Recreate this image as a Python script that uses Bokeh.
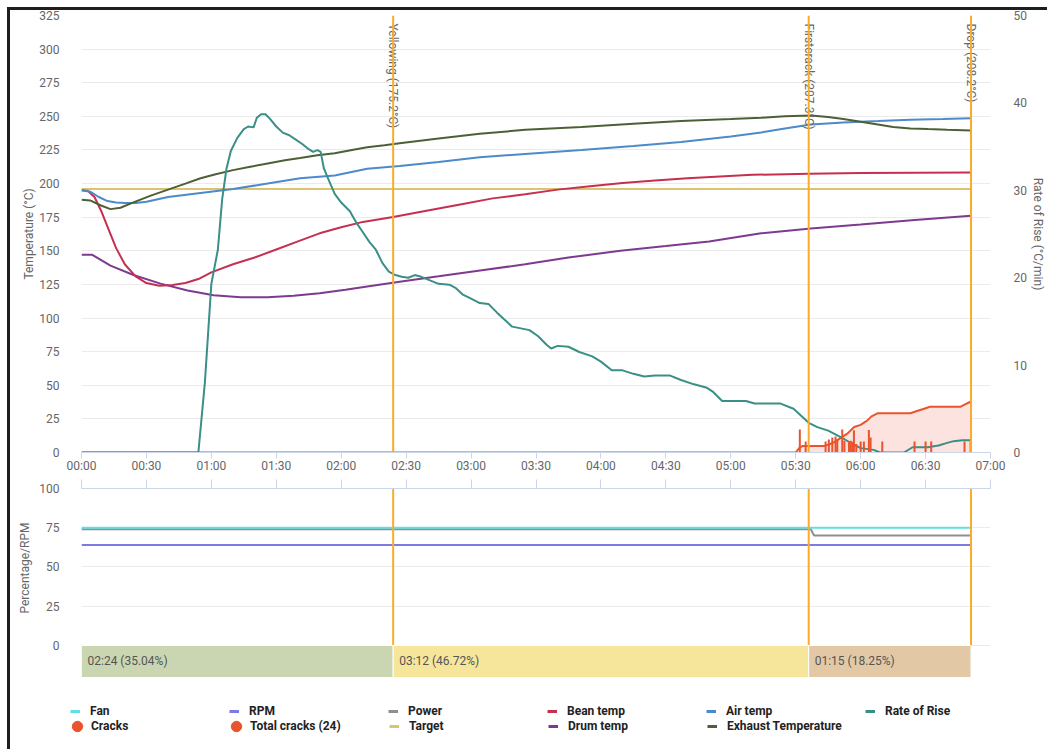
import math
from bokeh.plotting import figure
from bokeh.models import Range1d, LinearAxis, FixedTicker, Span, Legend, LegendItem, Title
from bokeh.layouts import column
from bokeh.embed import file_html
from bokeh.resources import INLINE
from bokeh.core.properties import value

# ---------------- data ----------------
x_ticks = [0, 30, 60, 90, 120, 150, 180, 210, 240, 270, 300, 330, 360, 390, 420]
x_tick_labels = ["00:00", "00:30", "01:00", "01:30", "02:00", "02:30", "03:00", "03:30",
                 "04:00", "04:30", "05:00", "05:30", "06:00", "06:30", "07:00"]
temp_ticks = [0, 25, 50, 75, 100, 125, 150, 175, 200, 225, 250, 275, 300, 325]
ror_ticks = [0, 10, 20, 30, 40, 50]
pct_ticks = [0, 25, 50, 75, 100]

bean_t = [0, 3, 6, 9, 12, 16, 20, 25, 30, 36, 42, 48, 54, 60, 70, 80, 90, 100, 110, 120,
          130, 144, 160, 175, 190, 205, 220, 235, 250, 265, 280, 295, 310, 336, 360, 385, 411]
bean_v = [195, 194.5, 190, 180, 168, 152, 140, 131, 126, 124, 124.5, 126, 129, 134, 140, 145, 151, 157, 163, 167.5,
          171.5, 175.2, 180, 184.5, 189, 192, 195.5, 198, 200.5, 202.3, 204, 205.3, 206.5, 207.3, 207.8, 208, 208.2]

air_t = [0, 4, 8, 12, 16, 20, 25, 30, 40, 55, 70, 86, 101, 117, 132, 147, 165, 184, 205, 231,
         255, 277, 300, 314, 325, 337, 352, 368, 383, 398, 411]
air_v = [195, 194, 190, 187, 186, 185.5, 185.5, 186.5, 190, 193, 196, 200, 204, 206, 211, 213, 216, 219.5, 222, 225,
         228, 231, 235, 238, 241, 244, 245.5, 246.5, 247.5, 248, 248.5]

exh_t = [0, 4, 9, 13.4, 18, 24, 32, 40, 48, 55, 62, 70, 78, 86, 94, 101, 109, 117, 125, 132,
         140, 147, 165, 184, 205, 231, 255, 277, 300, 314, 325, 337, 345, 352, 360, 368, 375, 383, 391, 400, 411]
exh_v = [188, 187.5, 183.7, 181, 182, 186, 191, 195.5, 200, 204, 207, 210, 212.5, 215, 217.3, 219, 221, 222.6, 225, 227,
         228.5, 230, 233.5, 237, 240, 242, 244.5, 246.5, 248, 249, 250, 250.6, 249.5, 248, 246, 244, 242, 241, 240.5, 240, 239.5]

drum_t = [0, 5, 13.4, 24, 36.5, 49, 61, 73.5, 86, 98, 110, 122, 132, 147, 165, 185, 205, 225, 249, 270,
          290, 314, 337, 360, 385, 411]
drum_v = [147, 147, 139, 132, 125.6, 120.5, 117, 115.5, 115.5, 116.5, 118.5, 121, 123.5, 127, 131, 135.5, 140, 145, 150, 153.5,
          157, 163, 166.6, 169.5, 173, 176]

target_t = [0, 411]
target_v = [196, 196]

ror_t = [0, 54, 57, 60, 63, 65, 67, 69, 72, 75, 77, 79.5, 81, 83, 85, 87, 90, 93, 96, 99,
         102, 105, 107, 109, 110.5, 112, 114, 117, 120, 124, 127, 130, 133, 136, 139, 142, 145, 148, 151, 154,
         157, 161, 165, 170, 173, 176, 180, 184, 188, 192, 195, 199, 203, 207, 211, 215, 217, 220, 225, 230,
         236, 240, 245, 250, 255, 260, 265, 272, 277, 283, 289, 292, 296, 303, 307, 311, 315, 323, 329, 333,
         336, 340, 345, 349, 352, 356, 360, 366, 369, 380, 384, 391, 396, 400, 403, 407, 411]
ror_v = [0, 0, 8, 19.3, 23.2, 29, 32.5, 34.5, 36, 37, 37.3, 37.2, 38.3, 38.7, 38.7, 38.2, 37.3, 36.6, 36.3, 35.8,
         35.3, 34.7, 34.4, 34.6, 34.4, 32.5, 31.3, 29.6, 28.6, 27.6, 26.3, 25.2, 24.1, 23.2, 21.7, 20.7, 20.3, 20.1, 20.0, 20.3,
         20.1, 19.7, 19.3, 19.2, 18.8, 18.1, 17.6, 17.1, 17.0, 16.0, 15.3, 14.4, 14.2, 14.0, 13.3, 12.3, 11.9, 12.2, 12.1, 11.5,
         11.0, 10.4, 9.4, 9.4, 9.0, 8.7, 8.8, 8.8, 8.3, 7.8, 7.4, 6.9, 5.9, 5.9, 5.9, 5.6, 5.6, 5.6, 5.0, 4.1,
         3.4, 2.9, 2.5, 2.0, 1.6, 1.0, 0.5, 0.3, 0.0, 0.0, 0.6, 0.6, 0.8, 1.1, 1.3, 1.4, 1.4]

total_cracks_t = [0, 330, 331.5, 333, 343, 346, 348, 351, 354, 357, 360, 363, 365, 368, 383, 386, 389, 392, 406, 408, 411]
total_cracks_v = [0, 0, 2, 3, 3, 4, 5, 7, 9, 12, 13, 15, 17, 18.5, 18.5, 19.5, 20.5, 21.5, 21.5, 22.5, 24]

crack_t = [331.9, 334.6, 343.8, 345.3, 346.9, 348.4, 349.2, 351.5, 352.5, 354.6,
           355.4, 356.1, 356.9, 358, 360, 361.5, 363.8, 364.6, 370, 384.9,
           390, 392.6, 408, 410.8]
crack_h = [10.8, 5.2, 5.2, 6.1, 7, 7.5, 6.1, 10.8, 5.5, 5,
           5.5, 5, 10.5, 4, 5.2, 5.2, 10.6, 7, 5.2, 5.2,
           5.2, 5.2, 5.2, 5.2]

fan_t = [0, 411]
fan_v = [75, 75]
rpm_t = [0, 411]
rpm_v = [64, 64]
power_t = [0, 337, 338.5, 411]
power_v = [74, 74, 70, 70]

event_names = ["Yellowing", "Firstcrack", "Drop"]
event_times = [144, 336, 411]
event_temps = [175.2, 207.3, 208.2]

phase_starts = [0, 144, 336]
phase_ends = [144, 336, 411]

# ---------------- styles ----------------
FONT = "Roboto"
AXC = "#666666"
FAN = "#62dfe6"
RPM = "#7b7be4"
POWER = "#8e8e8e"
BEAN = "#c6304f"
AIR = "#4d8acb"
ROR = "#3a8f86"
CRACK = "#e9542c"
CRACK_FILL = "#fde3df"
TARGET = "#dcc36e"
DRUM = "#7e3a8e"
EXH = "#4d6035"
EVENT = "#fbab2c"
PHASE_COLORS = ["#c9d6b1", "#f6e69b", "#e3c8a6"]
GRID = "#ebebeb"
TICKC = "#ccd6eb"

TEMP_MAX = temp_ticks[-1]
PCT_BOTTOM = -20.4   # room below 0 for the phase band
LEFT = 71
RIGHT = 52
FW = 909


def style_axis(ax):
    ax.major_label_text_font = FONT
    ax.major_label_text_font_size = "12px"
    ax.major_label_text_color = AXC
    ax.axis_label_text_font = FONT
    ax.axis_label_text_font_size = "12px"
    ax.axis_label_text_font_style = "normal"
    ax.axis_label_text_color = AXC
    ax.minor_tick_line_color = None


# ---------------- top chart ----------------
p1 = figure(title=None, frame_width=FW, frame_height=437, align="start",
            x_range=Range1d(x_ticks[0], x_ticks[-1]), y_range=Range1d(0, TEMP_MAX),
            output_backend="svg", toolbar_location=None,
            min_border_left=LEFT, min_border_right=RIGHT, min_border_top=5, min_border_bottom=24)
p1.extra_y_ranges = {"ror": Range1d(0, ror_ticks[-1]), "cracks": Range1d(0, 205.6)}
p1.outline_line_color = None
p1.xgrid.grid_line_color = None
p1.ygrid.ticker = FixedTicker(ticks=temp_ticks)
p1.ygrid.grid_line_color = GRID

lax = p1.left[0]
style_axis(lax)
lax.ticker = FixedTicker(ticks=temp_ticks)
lax.axis_line_color = None
lax.major_tick_line_color = None
lax.major_label_standoff = 16
lax.axis_label = "Temperature (°C)"
lax.axis_label_standoff = 0

bax = p1.below[0]
style_axis(bax)
bax.ticker = FixedTicker(ticks=x_ticks)
bax.major_label_overrides = {t: lab for t, lab in zip(x_ticks, x_tick_labels)}
bax.axis_line_color = TICKC
bax.major_tick_line_color = TICKC
bax.major_tick_out = 6
bax.major_tick_in = 0
bax.major_label_standoff = 0

rax = LinearAxis(y_range_name="ror", ticker=FixedTicker(ticks=ror_ticks), axis_label="Rate of Rise (°C/min)")
style_axis(rax)
rax.axis_line_color = None
rax.major_tick_line_color = None
rax.major_label_standoff = 17
rax.axis_label_standoff = 1
p1.add_layout(rax, "right")

p1.varea(x=total_cracks_t, y1=0, y2=total_cracks_v, y_range_name="cracks", fill_color=CRACK_FILL, fill_alpha=1)
p1.line(target_t, target_v, line_color=TARGET, line_width=2)
p1.line(drum_t, drum_v, line_color=DRUM, line_width=2)
p1.line(bean_t, bean_v, line_color=BEAN, line_width=2)
p1.line(air_t, air_v, line_color=AIR, line_width=2)
p1.line(exh_t, exh_v, line_color=EXH, line_width=2)
p1.line(total_cracks_t, total_cracks_v, y_range_name="cracks", line_color=CRACK, line_width=2)
p1.line(ror_t, ror_v, y_range_name="ror", line_color=ROR, line_width=2)
p1.segment(x0=crack_t, y0=[0] * len(crack_t), x1=crack_t, y1=crack_h, y_range_name="cracks",
           line_color=CRACK, line_width=2)

event_labels = [f"{n} ({v:.1f}°C)" for n, v in zip(event_names, event_temps)]
for t in event_times:
    p1.add_layout(Span(location=t, dimension="height", line_color=EVENT, line_width=2))
p1.text(x=event_times, y=[TEMP_MAX] * len(event_times), text=event_labels, angle=-math.pi / 2,
        text_align="left", text_baseline="middle", y_offset=8,
        text_font=value(FONT), text_font_size="12px", text_color=AXC)

# ---------------- bottom chart (with phase band) ----------------
p2 = figure(title=None, frame_width=FW, frame_height=189, align="start",
            x_range=p1.x_range, y_range=Range1d(PCT_BOTTOM, pct_ticks[-1]),
            x_axis_location="above", output_backend="svg", toolbar_location=None,
            min_border_left=LEFT, min_border_right=RIGHT, min_border_top=12, min_border_bottom=0)
p2.outline_line_color = None
p2.xgrid.grid_line_color = None
p2.ygrid.ticker = FixedTicker(ticks=pct_ticks)
p2.ygrid.grid_line_color = GRID

tax = p2.above[0]
style_axis(tax)
tax.ticker = FixedTicker(ticks=x_ticks)
tax.major_label_overrides = {t: "" for t in x_ticks}
tax.major_label_text_font_size = "0px"
tax.major_label_standoff = 0
tax.axis_line_color = TICKC
tax.major_tick_line_color = TICKC
tax.major_tick_out = 9
tax.major_tick_in = 0

lax2 = p2.left[0]
style_axis(lax2)
lax2.ticker = FixedTicker(ticks=pct_ticks)
lax2.axis_line_color = None
lax2.major_tick_line_color = None
lax2.major_label_standoff = 16

# axis title placed along the 0..100 part of the axis (not along the phase band)
p2.add_layout(Title(text="Percentage/RPM", align="left", offset=64, standoff=10,
                    text_font=FONT, text_font_size="12px", text_font_style="normal",
                    text_color=AXC), "left")

p2.line(rpm_t, rpm_v, line_color=RPM, line_width=2)
p2.line(power_t, power_v, line_color=POWER, line_width=2)
p2.line(fan_t, fan_v, line_color=FAN, line_width=2)
p2.segment(x0=event_times, y0=[pct_ticks[0]] * len(event_times), x1=event_times,
           y1=[pct_ticks[-1]] * len(event_times), line_color=EVENT, line_width=2)

total = phase_ends[-1] - phase_starts[0]
phase_labels = []
for s, e in zip(phase_starts, phase_ends):
    d = e - s
    phase_labels.append(f"{d // 60:02d}:{d % 60:02d} ({100 * d / total:.2f}%)")

p2.quad(left=phase_starts, right=phase_ends, bottom=PCT_BOTTOM, top=pct_ticks[0], fill_color=PHASE_COLORS,
        line_color="white", line_width=1)
p2.text(x=phase_starts, y=[PCT_BOTTOM / 2] * len(phase_starts), text=phase_labels, x_offset=6,
        text_align="left", text_baseline="middle",
        text_font=value(FONT), text_font_size="12px", text_color="#555555")

# ---------------- legend strip ----------------
# the proxy renderers carry the real series but lie outside this strip's ranges,
# so only their legend swatches are visible
p4 = figure(title=None, width=LEFT + FW + RIGHT, height=64, align="start",
            x_range=Range1d(-2, -1), y_range=Range1d(-2, -1),
            x_axis_type=None, y_axis_type=None, output_backend="svg", toolbar_location=None,
            min_border_left=0, min_border_right=0, min_border_top=0, min_border_bottom=0)
p4.outline_line_color = None
p4.grid.grid_line_color = None


def proxy_line(xs, ys, color):
    return p4.line(xs, ys, line_color=color, line_width=3)


def proxy_dot(xs, ys, color):
    return p4.scatter(xs, ys, marker="circle", fill_color=color, line_color=color)


def make_legend(items, loc, gw, gh, standoff, lw):
    leg = Legend(items=[LegendItem(label=l, renderers=[r]) for l, r in items], location=loc,
                 orientation="horizontal", glyph_width=gw, glyph_height=gh,
                 label_standoff=standoff, label_width=lw, label_height=14, spacing=3,
                 padding=0, margin=0, border_line_alpha=0, background_fill_alpha=0,
                 label_text_font=FONT, label_text_font_size="12px", label_text_font_style="bold",
                 label_text_color="#222222")
    p4.add_layout(leg, "center")


make_legend([("Fan", proxy_line(fan_t, fan_v, FAN)), ("RPM", proxy_line(rpm_t, rpm_v, RPM)),
             ("Power", proxy_line(power_t, power_v, POWER)), ("Bean temp", proxy_line(bean_t, bean_v, BEAN)),
             ("Air temp", proxy_line(air_t, air_v, AIR)), ("Rate of Rise", proxy_line(ror_t, ror_v, ROR))],
            (60, 23), 10, 14, 10, 136)
make_legend([("Cracks", proxy_dot(crack_t, crack_h, CRACK)),
             (f"Total cracks ({len(crack_t)})", proxy_dot(total_cracks_t, total_cracks_v, CRACK))],
            (54, 2), 26, 26, 1, 129)
make_legend([("Target", proxy_line(target_t, target_v, TARGET)), ("Drum temp", proxy_line(drum_t, drum_v, DRUM)),
             ("Exhaust Temperature", proxy_line(exh_t, exh_v, EXH))],
            (379, 8), 10, 14, 10, 136)

charts = column(p1, p2, spacing=0)
layout = column(charts, p4, spacing=0, margin=(7, 0, 0, 7),
                styles={"border-top": "3px solid #1e1e1e", "border-left": "3px solid #1e1e1e",
                        "padding-bottom": "8px"})

open("out.html", "w").write(file_html(layout, INLINE))
